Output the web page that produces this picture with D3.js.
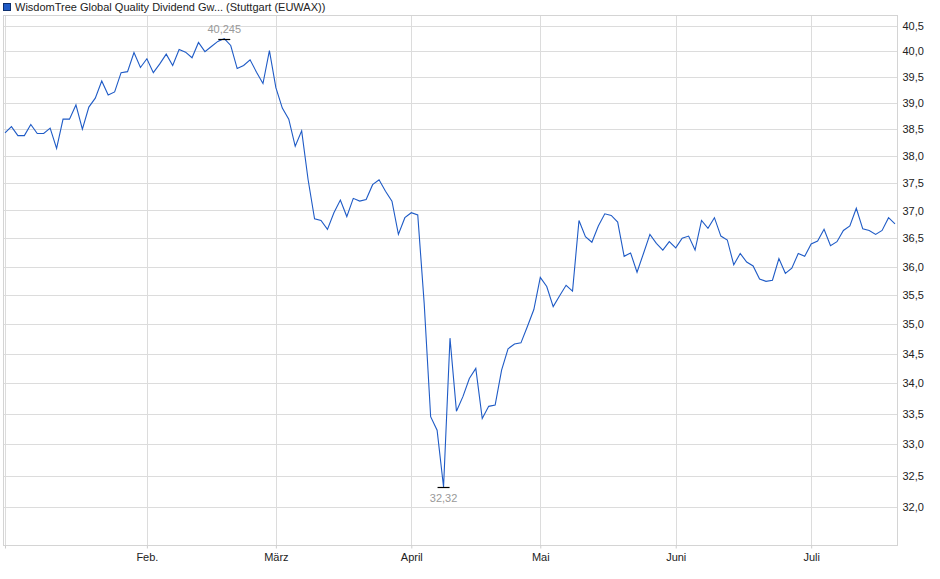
<!DOCTYPE html>
<html>
<head>
<meta charset="utf-8">
<script src="https://cdn.jsdelivr.net/npm/d3@7"></script>
<style>
  body { margin: 0; background: #fff; }
  text { font-family: "Liberation Sans", Arial, sans-serif; }
</style>
</head>
<body>
<div id="wrapper"></div>
<script>
// closing prices per trading day, grouped by month (Stuttgart / EUWAX)
const jan = [38.43, 38.55, 38.38, 38.38, 38.59, 38.42, 38.42, 38.52, 38.14, 38.69, 38.69,
  38.96, 38.50, 38.92, 39.09, 39.42, 39.15, 39.21, 39.58, 39.60, 39.97, 39.68];
const feb = [39.85, 39.58, 39.75, 39.94, 39.72, 40.03, 39.98, 39.87, 40.17, 39.99, 40.09,
  40.19, 40.245, 40.11, 39.66, 39.72, 39.83, 39.59, 39.37, 40.01];
const mar = [39.29, 38.90, 38.69, 38.18, 38.47, 37.56, 36.85, 36.82, 36.66, 36.96, 37.19,
  36.89, 37.22, 37.17, 37.20, 37.47, 37.56, 37.35, 37.17, 36.57, 36.87];
const apr = [36.96, 36.92, 35.35, 33.45, 33.23, 32.32, 34.76, 33.54, 33.78, 34.08, 34.25,
  33.42, 33.62, 33.64, 34.22, 34.58, 34.66, 34.68, 34.96, 35.25];
const may = [35.81, 35.65, 35.30, 35.49, 35.67, 35.57, 36.82, 36.53, 36.43, 36.72, 36.94,
  36.91, 36.79, 36.18, 36.24, 35.90, 36.23, 36.57, 36.41, 36.29, 36.44];
const jun = [36.33, 36.50, 36.54, 36.29, 36.82, 36.68, 36.87, 36.54, 36.47, 36.03, 36.23,
  36.08, 36.01, 35.78, 35.74, 35.76, 36.14, 35.88, 35.97, 36.23, 36.18];
const jul = [36.40, 36.45, 36.66, 36.37, 36.44, 36.64, 36.72, 37.04, 36.67, 36.64, 36.57,
  36.64, 36.87, 36.76];

const monthLabels = [``, `Feb.`, `März`, `April`, `Mai`, `Juni`, `Juli`];
const yTicks = [32.0, 32.5, 33.0, 33.5, 34.0, 34.5, 35.0, 35.5, 36.0, 36.5, 37.0, 37.5,
  38.0, 38.5, 39.0, 39.5, 40.0, 40.5];
const title = `WisdomTree Global Quality Dividend Gw... (Stuttgart (EUWAX))`;

const months = [jan, feb, mar, apr, may, jun, jul];
const values = months.flat();
const monthStarts = [];
months.reduce((acc, m) => { monthStarts.push(acc); return acc + m.length; }, 0);

const W = 940, H = 579;
const plot = { left: 3.5, top: 15.5, right: 897.5, bottom: 545.5 };

const svg = d3.select(`#wrapper`)
  .append(`svg`)
  .attr(`width`, W)
  .attr(`height`, H);

const xScale = d3.scaleLinear()
  .domain([0, values.length - 1])
  .range([5, 895]);

const yScale = d3.scaleLog()
  .domain([32, 40.5])
  .range([507.3, 25.7]);

const fmt = v => String(v).replace(`.`, `,`);

// grid
const grid = svg.append(`g`).attr(`shape-rendering`, `crispEdges`);
grid.selectAll(`.hgrid`)
  .data(yTicks)
  .join(`line`)
  .attr(`x1`, plot.left)
  .attr(`x2`, plot.right)
  .attr(`y1`, d => Math.round(yScale(d)) + 0.5)
  .attr(`y2`, d => Math.round(yScale(d)) + 0.5)
  .attr(`stroke`, `#dcdcdc`);

grid.selectAll(`.vgrid`)
  .data(monthStarts)
  .join(`line`)
  .attr(`x1`, d => Math.round(xScale(d)) + 0.5)
  .attr(`x2`, d => Math.round(xScale(d)) + 0.5)
  .attr(`y1`, plot.top)
  .attr(`y2`, plot.bottom)
  .attr(`stroke`, `#dcdcdc`);

svg.append(`rect`)
  .attr(`x`, plot.left)
  .attr(`y`, plot.top)
  .attr(`width`, plot.right - plot.left)
  .attr(`height`, plot.bottom - plot.top)
  .attr(`fill`, `none`)
  .attr(`stroke`, `#d4d4d4`)
  .attr(`shape-rendering`, `crispEdges`);

// right axis
const yAxis = svg.append(`g`)
  .attr(`transform`, `translate(${plot.right}, 0)`)
  .call(d3.axisRight(yScale).tickValues(yTicks).tickSize(0).tickPadding(5)
    .tickFormat(d => d.toFixed(1).replace(`.`, `,`)));
yAxis.select(`.domain`).remove();
yAxis.selectAll(`text`)
  .attr(`font-size`, 11)
  .attr(`font-family`, `"Liberation Sans", Arial, sans-serif`)
  .attr(`fill`, `#222`);

// bottom axis
const xAxis = svg.append(`g`)
  .attr(`transform`, `translate(0, ${plot.bottom})`)
  .call(d3.axisBottom(xScale).tickValues(monthStarts).tickSize(3).tickPadding(5)
    .tickFormat((d, i) => monthLabels[i]));
xAxis.select(`.domain`).remove();
xAxis.selectAll(`line`).attr(`stroke`, `#ccc`);
xAxis.selectAll(`text`)
  .attr(`font-size`, 11)
  .attr(`font-family`, `"Liberation Sans", Arial, sans-serif`)
  .attr(`fill`, `#222`);

// price line
const line = d3.line()
  .x((d, i) => xScale(i))
  .y(d => yScale(d));

svg.append(`path`)
  .datum(values)
  .attr(`d`, line)
  .attr(`fill`, `none`)
  .attr(`stroke`, `#1f5bc6`)
  .attr(`stroke-width`, 1.1);

// high / low markers
const iMax = d3.maxIndex(values);
const iMin = d3.minIndex(values);

const marks = [
  { i: iMax, v: values[iMax], dy: -6 },
  { i: iMin, v: values[iMin], dy: 15 },
];

svg.selectAll(`.mark`)
  .data(marks)
  .join(`line`)
  .attr(`x1`, d => xScale(d.i) - 6)
  .attr(`x2`, d => xScale(d.i) + 6)
  .attr(`y1`, d => Math.round(yScale(d.v)) + 0.5)
  .attr(`y2`, d => Math.round(yScale(d.v)) + 0.5)
  .attr(`stroke`, `#000`)
  .attr(`stroke-width`, 1.2);

svg.selectAll(`.mark-label`)
  .data(marks)
  .join(`text`)
  .attr(`x`, d => xScale(d.i))
  .attr(`y`, d => yScale(d.v) + d.dy)
  .attr(`text-anchor`, `middle`)
  .attr(`font-size`, 11)
  .attr(`fill`, `#999`)
  .text(d => fmt(d.v));

// legend / title
svg.append(`rect`)
  .attr(`x`, 3.5)
  .attr(`y`, 3.5)
  .attr(`width`, 7)
  .attr(`height`, 7)
  .attr(`fill`, `#1f5bc6`)
  .attr(`stroke`, `#0d2f6e`);

svg.append(`text`)
  .attr(`x`, 15)
  .attr(`y`, 11)
  .attr(`font-size`, 11)
  .attr(`fill`, `#222`)
  .text(title);
</script>
</body>
</html>
